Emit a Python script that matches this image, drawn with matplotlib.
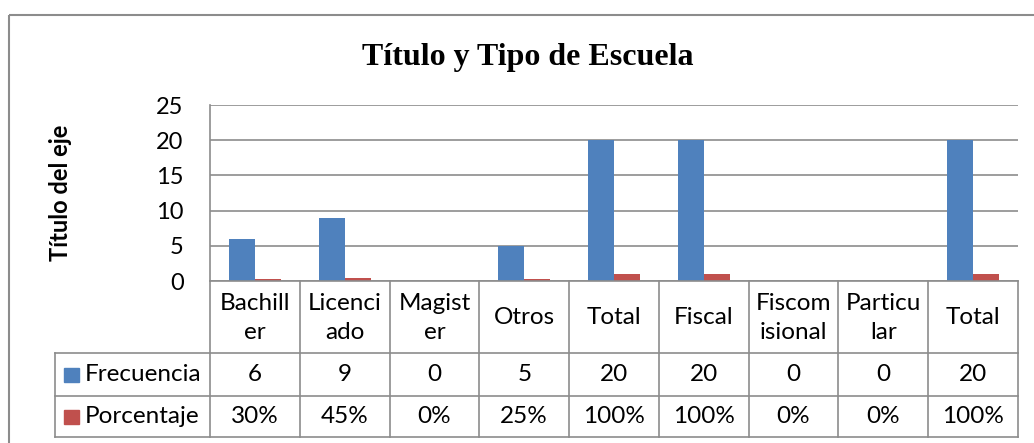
import matplotlib.pyplot as plt
import numpy as np
from matplotlib.transforms import Affine2D, blended_transform_factory
from matplotlib.patches import Rectangle
from matplotlib.lines import Line2D

# datos
categorias = ["Bachill\ner", "Licenci\nado", "Magist\ner", "Otros", "Total",
              "Fiscal", "Fiscom\nisional", "Particu\nlar", "Total"]
frecuencia = [6, 9, 0, 5, 20, 20, 0, 0, 20]
porcentaje = [0.30, 0.45, 0.0, 0.25, 1.0, 1.0, 0.0, 0.0, 1.0]
series = ["Frecuencia", "Porcentaje"]
colores = ["#4F81BD", "#C0504D"]
yticks = [0, 5, 10, 15, 20, 25]

gris = "#8C8C8C"
fuente = "Lato"
tam = 17.5

W, H = 1034, 443
fig = plt.figure(figsize=(W / 100, H / 100), dpi=100)
# coordenadas en pixeles (y hacia abajo)
px = Affine2D().scale(1 / W, -1 / H).translate(0, 1) + fig.transFigure

ax = fig.add_axes([210 / W, 1 - 281 / H, (1018 - 210) / W, (281 - 105) / H])
x = np.arange(len(categorias))
ancho = 0.29
ax.bar(x - ancho / 2, frecuencia, width=ancho, color=colores[0], zorder=3)
ax.bar(x + ancho / 2, porcentaje, width=ancho, color=colores[1], zorder=3)

ax.set_xlim(-0.5, len(categorias) - 0.5)
ax.set_ylim(0, 25)
ax.set_yticks(yticks)
ax.set_xticks([])
ax.tick_params(axis='y', length=0, pad=19, labelsize=17)
for lbl in ax.get_yticklabels():
    lbl.set_family(fuente)
ax.grid(axis='y', color=gris, linewidth=1.2, zorder=0)
for s in ["top", "right", "bottom"]:
    ax.spines[s].set_visible(False)
ax.spines["left"].set_color(gris)
ax.spines["left"].set_linewidth(1.2)

# titulo y titulo del eje
fig.text(528, 65, "Título y Tipo de Escuela", transform=px, ha='center', va='baseline',
         family="Liberation Serif", fontweight='bold', fontsize=23)
fig.text(61, 193, "Título del eje", transform=px, ha='center', va='center', rotation=90,
         family=fuente, fontweight='bold', fontsize=17)

# tabla de datos
bl = blended_transform_factory(ax.transData, px)
fig.add_artist(Line2D([210, 1018], [281, 281], transform=px, color=gris, lw=1.2))
for yy in [353, 396, 437]:
    fig.add_artist(Line2D([55, 1018], [yy, yy], transform=px, color=gris, lw=1.2))
fig.add_artist(Line2D([55, 55], [353, 437], transform=px, color=gris, lw=1.2))
for b in np.arange(len(categorias) + 1) - 0.5:
    fig.add_artist(Line2D([b, b], [281, 437], transform=bl, color=gris, lw=1.2))

for i, cat in enumerate(categorias):
    fig.text(i, 318, cat, transform=bl, ha='center', va='center', family=fuente,
             fontsize=tam, linespacing=1.5)
    fig.text(i, 375, str(frecuencia[i]), transform=bl, ha='center', va='center',
             family=fuente, fontsize=tam)
    fig.text(i, 417, f"{porcentaje[i]:.0%}", transform=bl, ha='center', va='center',
             family=fuente, fontsize=tam)

for j, (nombre, c) in enumerate(zip(series, colores)):
    yc = [375, 417][j]
    fig.add_artist(Rectangle((64, yc - 7), 15, 14, transform=px, color=c))
    fig.text(85, yc, nombre, transform=px, ha='left', va='center', family=fuente, fontsize=tam)

# marco del grafico
fig.add_artist(Rectangle((9, 15), 1200, 600, transform=px, fill=False, edgecolor=gris, lw=1.5))

fig.savefig("out.png", dpi=100)
